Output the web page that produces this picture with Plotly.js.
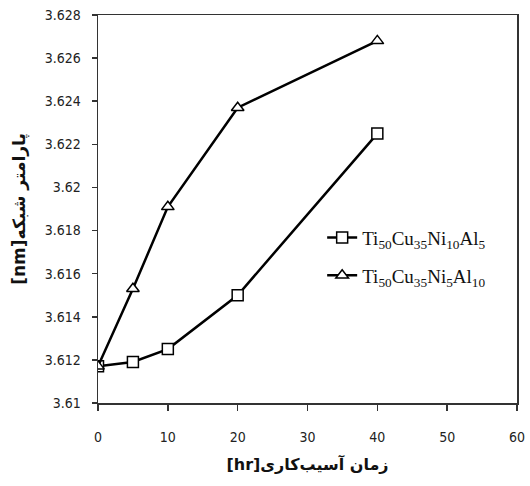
<!DOCTYPE html>
<html>
<head>
<meta charset="utf-8">
<script src="https://cdn.plot.ly/plotly-3.0.1.min.js"></script>
<style>html,body{margin:0;padding:0;background:#fff;}#chart{width:530px;height:486px;}</style>
</head>
<body>
<div id="chart"></div>
<script>
var millingTime = [0, 5, 10, 20, 40];
var seriesNames = [
  "Ti<sub>50</sub>Cu<sub>35</sub>Ni<sub>10</sub>Al<sub>5</sub>",
  "Ti<sub>50</sub>Cu<sub>35</sub>Ni<sub>5</sub>Al<sub>10</sub>"
];
var latticeAl5 = [3.6117, 3.6119, 3.6125, 3.6150, 3.6225];
var latticeAl10 = [3.6117, 3.6153, 3.6191, 3.6237, 3.6268];
var xTicks = [0, 10, 20, 30, 40, 50, 60];
var yTicks = [3.61, 3.612, 3.614, 3.616, 3.618, 3.62, 3.622, 3.624, 3.626, 3.628];
var yTickText = ["3.61", "3.612", "3.614", "3.616", "3.618", "3.62", "3.622", "3.624", "3.626", "3.628"];
var xTitle = "[hr]زمان آسیب‌کاری";
var yTitle = "[nm]پارامتر شبکه";

var traces = [
  {x: millingTime, y: latticeAl5, name: seriesNames[0], mode: "lines+markers", legendgroup: "a",
   line: {color: "#000", width: 2.5},
   marker: {symbol: "square", size: 11, color: "#fff", line: {color: "#000", width: 1.5}}},
  {x: millingTime, y: latticeAl10, name: seriesNames[1], mode: "lines+markers", legendgroup: "b",
   line: {color: "#000", width: 2.5},
   marker: {symbol: "triangle-up", size: 11, color: "#fff", line: {color: "#000", width: 1.5}}}
];

var tickFont = {family: "DejaVu Sans Condensed, Liberation Sans Narrow, sans-serif", size: 14, color: "#222"};

var layout = {
  width: 530, height: 486,
  margin: {l: 98, r: 13, t: 15, b: 83},
  paper_bgcolor: "#fff", plot_bgcolor: "#fff",
  showlegend: true,
  legend: {x: 0.535, y: 0.475, xanchor: "left", yanchor: "top", bgcolor: "rgba(0,0,0,0)",
    font: {family: "Liberation Serif, Times New Roman, serif", size: 19, color: "#111"},
    traceorder: "grouped", tracegroupgap: 10, itemwidth: 30},
  xaxis: {range: [0, 60], tickvals: xTicks, ticktext: xTicks.map(String), showgrid: false, zeroline: false,
    showline: true, mirror: true, linecolor: "#333", linewidth: 1.5,
    ticks: "outside", ticklen: 6, tickcolor: "#333", tickwidth: 1.5, ticklabelstandoff: 15,
    tickfont: tickFont,
    title: {text: xTitle, standoff: 14, font: {family: "DejaVu Sans", size: 16, color: "#111", weight: "bold"}}},
  yaxis: {range: [3.61, 3.628], tickvals: yTicks, ticktext: yTickText, showgrid: false, zeroline: false,
    showline: true, mirror: true, linecolor: "#333", linewidth: 1.5,
    ticks: "outside", ticklen: 5, tickcolor: "#333", tickwidth: 1.5, ticklabelstandoff: 8,
    tickfont: tickFont,
    title: {text: yTitle, standoff: 14, font: {family: "DejaVu Sans", size: 17, color: "#111", weight: "bold"}}}
};

Plotly.newPlot("chart", traces, layout, {displayModeBar: false, staticPlot: true});
</script>
</body>
</html>
